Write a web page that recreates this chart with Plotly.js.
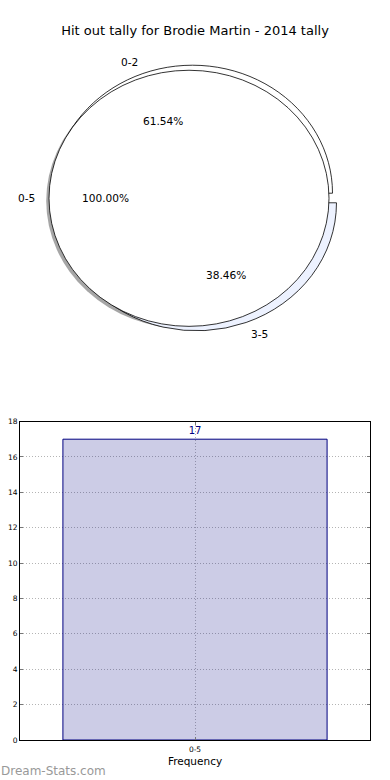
<!DOCTYPE html>
<html>
<head>
<meta charset="utf-8">
<script src="https://cdn.plot.ly/plotly-3.0.1.min.js"></script>
<style>html,body{margin:0;padding:0;background:#fff;}#chart{width:390px;height:780px;}</style>
</head>
<body>
<div id="chart"></div>
<script>
// ---- data ----
const chartTitle = "Hit out tally for Brodie Martin - 2014 tally";
const totalLabels = ["0-5"];
const totalValues = [17];
const splitLabels = ["0-2", "3-5"];
const splitValues = [8, 5];
const splitColors = ["#ffffff", "#edf2ff"];
const barCategories = ["0-5"];
const barValues = [17];
const xTitle = "Frequency";
const watermark = "Dream-Stats.com";

// ---- page geometry (pixels) ----
const W = 390, H = 780;
const px = x => x / W;
const py = y => 1 - y / H;

// pie ellipse geometry (matplotlib-like, non-equal aspect)
const C0 = {x: 189, y: 198.3};          // centre of the 0-5 pie
const C1 = {x: 194.5, y: 198};          // centre of the split pie
const RX = 140, RY = 128, R = 134;      // ellipse radii and base circle radius
const SX = RX / R, SY = RY / R;
const EXPLODE = 0.04;
const SHADOW = 0.02;

// pre-scale positions (the pie layer is scaled about C0 afterwards)
function pre(p) { return {x: C0.x + (p.x - C0.x) / SX, y: C0.y + (p.y - C0.y) / SY}; }
function domainFor(center, pull) {
  const c = pre(center);
  const h = R * (1 + pull);
  return {x: [px(c.x - h), px(c.x + h)], y: [py(c.y + h), py(c.y - h)]};
}
// Plotly (counterclockwise) puts the first slice clockwise of `rotation`;
// matplotlib starts the first slice at 3 o'clock going counterclockwise.
function mplRotation(values) {
  const tot = values.reduce((a, b) => a + b, 0);
  return 90 - 360 * values[0] / tot;
}

const shadowCenter = {x: C0.x - SHADOW * RX, y: C0.y + SHADOW * RY};

const traces = [
  { type: 'pie', values: totalValues, labels: totalLabels, sort: false,
    direction: 'counterclockwise', rotation: mplRotation(totalValues), textinfo: 'none', hoverinfo: 'skip',
    marker: {colors: ['rgba(77,77,77,0.5)'], line: {width: 0}},
    domain: domainFor(shadowCenter, 0), showlegend: false },
  { type: 'pie', values: splitValues, labels: splitLabels, sort: false,
    direction: 'counterclockwise', rotation: mplRotation(splitValues), textinfo: 'none', hoverinfo: 'skip',
    pull: splitValues.map(() => EXPLODE),
    marker: {colors: splitColors, line: {color: '#000', width: 0.8}},
    domain: domainFor(C1, EXPLODE), showlegend: false },
  { type: 'pie', values: totalValues, labels: totalLabels, sort: false,
    direction: 'counterclockwise', rotation: mplRotation(totalValues), textinfo: 'none', hoverinfo: 'skip',
    marker: {colors: ['#ffffff'], line: {color: '#000', width: 0.8}},
    domain: domainFor(C0, 0), showlegend: false },
  { type: 'bar', x: barCategories, y: barValues, width: 0.8,
    marker: {color: 'rgba(0,0,128,0.2)', line: {color: '#000080', width: 1}},
    text: barValues.map(String), textposition: 'outside', cliponaxis: false,
    textfont: {color: '#000080', size: 10, family: 'DejaVu Sans'},
    xaxis: 'x', yaxis: 'y', showlegend: false, hoverinfo: 'skip' }
];

// pie labels (matplotlib style: labels at 1.1 r, percentages at 0.6 r)
const annotations = [];
const labFont = {family: 'DejaVu Sans', size: 10.6, color: '#000'};
function pieTexts(labels, values, center, explode) {
  const tot = values.reduce((a, b) => a + b, 0);
  let acc = 0;
  labels.forEach((lab, i) => {
    const frac = values[i] / tot;
    const mid = (acc + frac / 2) * 2 * Math.PI;
    acc += frac;
    const c = Math.cos(mid), s = Math.sin(mid);
    const lx = center.x + (1.1 + explode) * RX * c, ly = center.y - (1.1 + explode) * RY * s;
    annotations.push({xref: 'paper', yref: 'paper', x: px(lx), y: py(ly), text: lab,
      showarrow: false, xanchor: c < -1e-9 ? 'right' : (c > 1e-9 ? 'left' : 'center'),
      yanchor: 'middle', font: labFont, borderpad: 0, borderwidth: 0});
    const tx = center.x + (0.6 + explode) * RX * c, ty = center.y - (0.6 + explode) * RY * s;
    annotations.push({xref: 'paper', yref: 'paper', x: px(tx), y: py(ty),
      text: (frac * 100).toFixed(2) + '%', showarrow: false, xanchor: 'center',
      yanchor: 'middle', font: labFont, borderpad: 0, borderwidth: 0});
  });
}
pieTexts(splitLabels, splitValues, C1, EXPLODE);
pieTexts(totalLabels, totalValues, C0, 0);

annotations.push({xref: 'paper', yref: 'paper', x: px(-1), y: py(771), text: watermark,
  showarrow: false, xanchor: 'left', yanchor: 'middle',
  font: {family: 'DejaVu Sans', size: 12, color: '#999'}});

const gridStyle = {showgrid: true, gridcolor: '#b4b4b4', griddash: '1px,2px', gridwidth: 1};

const layout = {
  width: W, height: H, margin: {l: 0, r: 0, t: 0, b: 0},
  paper_bgcolor: '#fff', plot_bgcolor: '#fff',
  font: {family: 'DejaVu Sans', color: '#000'},
  title: {text: chartTitle, x: 0.5, xanchor: 'center', y: py(30), yanchor: 'middle',
    yref: 'container', font: {family: 'DejaVu Sans', size: 13, color: '#000'}},
  xaxis: Object.assign({domain: [px(20), px(370)], type: 'category', range: [-0.53, 0.53],
    showline: true, mirror: 'ticks', linecolor: '#000', linewidth: 1,
    ticks: 'inside', ticklen: 3, tickcolor: '#777', ticklabelstandoff: 2,
    tickfont: {family: 'DejaVu Sans', size: 7.5, color: '#000'},
    title: {text: xTitle, font: {family: 'DejaVu Sans', size: 10.5, color: '#000'}, standoff: 4},
    automargin: false, fixedrange: true}, gridStyle),
  yaxis: Object.assign({domain: [py(740), py(421.5)], range: [0, 18], dtick: 2,
    showline: true, mirror: 'ticks', linecolor: '#000', linewidth: 1,
    ticks: 'inside', ticklen: 3, tickcolor: '#777', zeroline: false,
    tickfont: {family: 'DejaVu Sans', size: 7.5, color: '#000'},
    automargin: false, fixedrange: true}, gridStyle),
  annotations: annotations,
  showlegend: false
};

Plotly.newPlot('chart', traces, layout, {staticPlot: true, displayModeBar: false}).then(gd => {
  // stretch the pies into matplotlib's ellipse (non-equal axis aspect)
  const pl = gd.querySelector('.pielayer');
  if (pl) {
    pl.setAttribute('transform',
      `translate(${C0.x},${C0.y}) scale(${SX},${SY}) translate(${-C0.x},${-C0.y})`);
  }
});
</script>
</body>
</html>
